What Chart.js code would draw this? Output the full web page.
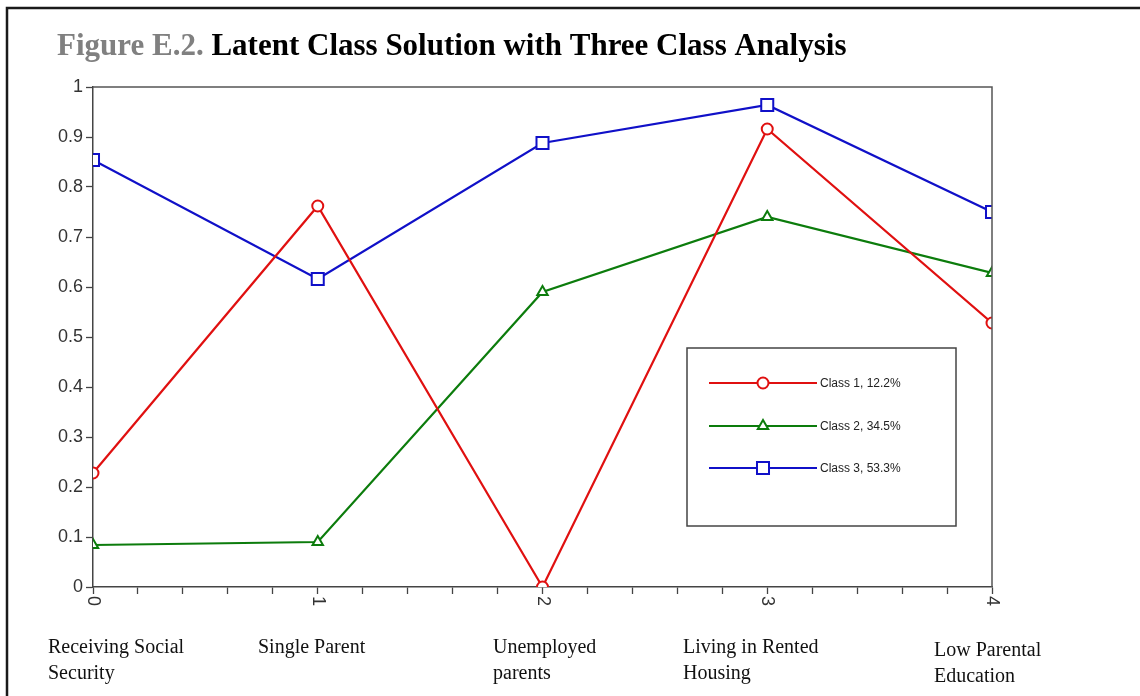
<!DOCTYPE html>
<html>
<head>
<meta charset="utf-8">
<script src="https://cdn.jsdelivr.net/npm/chart.js@4.4.1/dist/chart.umd.min.js"></script>
<style>
  html, body { margin: 0; padding: 0; background: #fff; }
  #wrap { position: relative; width: 1140px; height: 696px; }
</style>
</head>
<body>
<div id="wrap"><canvas id="c" width="1140" height="696"></canvas></div>
<script>
// ---- data ----
const xTickLabels = ['0', '1', '2', '3', '4'];
const categoryNames = [
  ['Receiving Social', 'Security'],
  ['Single Parent'],
  ['Unemployed', 'parents'],
  ['Living in Rented', 'Housing'],
  ['Low Parental', 'Education']
];
const seriesLabels = ['Class 1, 12.2%', 'Class 2, 34.5%', 'Class 3, 53.3%'];
const class1 = [0.228, 0.762, 0.000, 0.916, 0.528];
const class2 = [0.084, 0.090, 0.590, 0.740, 0.628];
const class3 = [0.854, 0.616, 0.888, 0.964, 0.750];
const titlePrefix = 'Figure E.2.';
const titleText = 'Latent Class Solution with Three Class Analysis';

// ---- layout ----
const categoryLeft = [48, 258, 493, 683, 934];
const categoryDrop = [0, 0, 0, 0, 3];
const serif = '"Liberation Serif", "Times New Roman", serif';
const sans = '"Liberation Sans", Arial, sans-serif';
const colors = ['#e01010', '#0c7c0c', '#1010c8'];
const styles = ['circle', 'triangle', 'rect'];
const radii = [5.5, 6, 8.5];

const toPoints = arr => arr.map((v, i) => ({ x: i, y: v }));

const datasets = [class1, class2, class3].map((vals, i) => ({
  label: seriesLabels[i],
  data: toPoints(vals),
  borderColor: colors[i],
  backgroundColor: '#ffffff',
  borderWidth: 2.2,
  pointStyle: styles[i],
  pointRadius: radii[i],
  pointBorderWidth: 2,
  pointBorderColor: colors[i],
  pointBackgroundColor: '#ffffff',
  tension: 0,
  clip: 0
}));

// outer figure frame and title
const framePlugin = {
  id: 'frame',
  beforeDraw(chart) {
    const ctx = chart.ctx;
    ctx.save();
    ctx.fillStyle = '#fff';
    ctx.fillRect(0, 0, chart.width, chart.height);
    ctx.strokeStyle = '#1a1a1a';
    ctx.lineWidth = 2.5;
    ctx.beginPath();
    ctx.moveTo(7, chart.height);
    ctx.lineTo(7, 8);
    ctx.lineTo(chart.width, 8);
    ctx.stroke();

    ctx.font = 'bold 31px ' + serif;
    ctx.textBaseline = 'alphabetic';
    ctx.textAlign = 'left';
    ctx.fillStyle = '#808080';
    ctx.fillText(titlePrefix, 57, 55);
    const w = ctx.measureText(titlePrefix + ' ').width;
    ctx.fillStyle = '#000';
    ctx.fillText(titleText, 57 + w, 55);
    ctx.restore();
  }
};

// plot box, rotated x tick numbers, category names, legend
const decorPlugin = {
  id: 'decor',
  afterDraw(chart) {
    const ctx = chart.ctx;
    const a = chart.chartArea;
    const xs = chart.scales.x;
    ctx.save();

    // top and right sides of the plot box
    ctx.strokeStyle = '#555';
    ctx.lineWidth = 1.5;
    ctx.beginPath();
    ctx.moveTo(a.left, a.top);
    ctx.lineTo(a.right, a.top);
    ctx.lineTo(a.right, a.bottom);
    ctx.stroke();

    // x tick numbers, turned a quarter clockwise
    ctx.font = '18px ' + sans;
    ctx.fillStyle = '#333';
    ctx.textAlign = 'left';
    ctx.textBaseline = 'middle';
    xTickLabels.forEach((t, i) => {
      const px = xs.getPixelForValue(i);
      ctx.save();
      ctx.translate(px, a.bottom + 9);
      ctx.rotate(Math.PI / 2);
      ctx.fillText(t, 0, 0);
      ctx.restore();
    });

    // category names under the axis
    ctx.font = '20px ' + serif;
    ctx.fillStyle = '#111';
    ctx.textBaseline = 'alphabetic';
    categoryNames.forEach((lines, i) => {
      lines.forEach((ln, j) => {
        ctx.fillText(ln, categoryLeft[i], 653 + categoryDrop[i] + j * 26);
      });
    });

    // legend box
    const lx = 687, ly = 348, lw = 269, lh = 178;
    ctx.strokeStyle = '#444';
    ctx.lineWidth = 1.5;
    ctx.strokeRect(lx, ly, lw, lh);
    const rowY = [383, 426, 468];
    chart.data.datasets.forEach((ds, i) => {
      const y = rowY[i];
      ctx.strokeStyle = ds.borderColor;
      ctx.lineWidth = 2.2;
      ctx.beginPath();
      ctx.moveTo(709, y);
      ctx.lineTo(817, y);
      ctx.stroke();
      ctx.fillStyle = '#fff';
      ctx.lineWidth = 2;
      Chart.helpers.drawPoint(ctx, {
        pointStyle: ds.pointStyle,
        radius: ds.pointRadius,
        borderWidth: 2,
        rotation: 0
      }, 763, y);
      ctx.fillStyle = '#222';
      ctx.font = '12px ' + sans;
      ctx.textBaseline = 'middle';
      ctx.fillText(ds.label, 820, y + 1);
    });
    ctx.restore();
  }
};

new Chart(document.getElementById('c'), {
  type: 'line',
  data: { datasets },
  options: {
    responsive: false,
    animation: false,
    devicePixelRatio: 1,
    layout: { autoPadding: false, padding: { top: 87, right: 148, bottom: 0, left: 0 } },
    plugins: { legend: { display: false }, title: { display: false }, tooltip: { enabled: false } },
    scales: {
      x: {
        type: 'linear',
        min: 0,
        max: 4,
        afterFit: s => { s.height = 109; },
        ticks: { stepSize: 0.2, display: false },
        grid: { display: true, drawOnChartArea: false, drawTicks: true, tickLength: 7, tickColor: '#444', tickWidth: 1.3 },
        border: { display: true, color: '#444', width: 1.5 }
      },
      y: {
        min: 0,
        max: 1,
        afterFit: s => { s.width = 93; },
        ticks: {
          stepSize: 0.1,
          padding: 3,
          color: '#333',
          font: { family: sans, size: 18 },
          callback: v => String(Math.round(v * 10) / 10)
        },
        grid: { display: true, drawOnChartArea: false, drawTicks: true, tickLength: 7, tickColor: '#444', tickWidth: 1.3 },
        border: { display: true, color: '#444', width: 1.5 }
      }
    }
  },
  plugins: [framePlugin, decorPlugin]
});
</script>
</body>
</html>
